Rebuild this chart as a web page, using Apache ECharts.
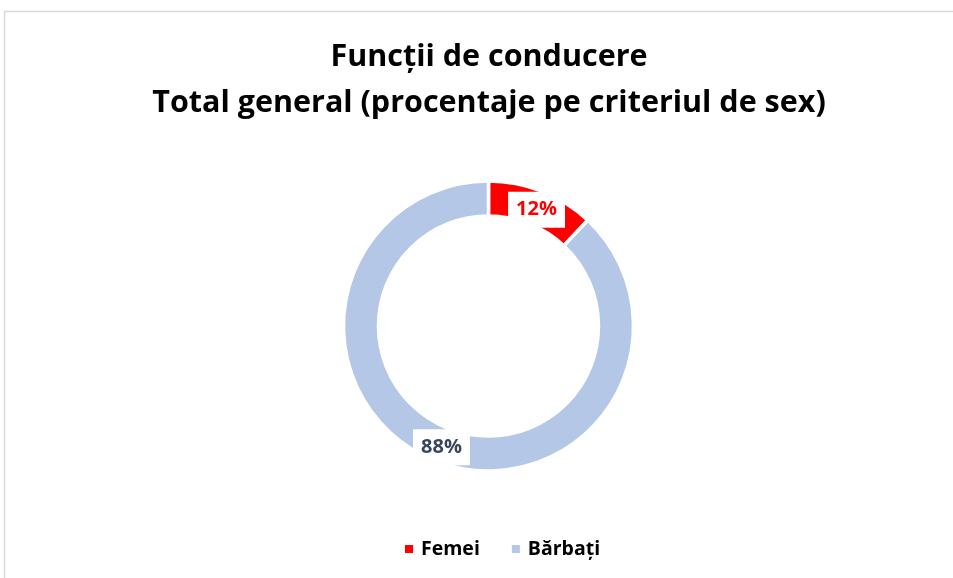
<!DOCTYPE html>
<html><head><meta charset="utf-8">
<script src="https://cdn.jsdelivr.net/npm/echarts@6/dist/echarts.min.js"></script>
<style>html,body{margin:0;padding:0;background:#fff}#c{width:953px;height:578px}</style>
</head><body><div id="c"></div>
<script>
const titleLines = ['Funcții de conducere', 'Total general (procentaje pe criteriul de sex)'];
const categories = ['Femei', 'Bărbați'];
const values = [12, 88];
const colors = ['#FF0000', '#B4C7E7'];
const labelColors = ['#FF0000', '#3B4559'];
const labelOffsets = [[0, 5], [1, 0]];

const chart = echarts.init(document.getElementById('c'));
chart.setOption({
  animation: false,
  backgroundColor: '#fff',
  title: {
    text: titleLines.join('\n'),
    left: 484, top: 29, textAlign: 'center',
    textStyle: { fontFamily: 'Open Sans', fontWeight: 'bold', fontSize: 30.5, color: '#000', lineHeight: 46 }
  },
  graphic: [{
    type: 'rect', shape: { x: 4.5, y: 11.5, width: 1000, height: 700 },
    style: { fill: 'none', stroke: '#D9D9D9', lineWidth: 1.5 }, silent: true
  }],
  legend: {
    bottom: 14, left: 398, itemWidth: 10, itemHeight: 10, itemGap: 30,
    icon: 'rect',
    textStyle: { fontFamily: 'Open Sans', fontWeight: 'bold', fontSize: 19.5, color: '#000', padding: [0, 0, 0, 2] },
    data: categories
  },
  series: [{
    type: 'pie',
    center: [488.5, 326],
    radius: [110, 145],
    startAngle: 90,
    clockwise: true,
    itemStyle: { borderColor: '#fff', borderWidth: 3.5 },
    label: {
      position: 'inside',
      formatter: '{c}%',
      fontFamily: 'Open Sans', fontWeight: 'bold', fontSize: 20, lineHeight: 20,
      backgroundColor: '#fff', padding: [8, 8, 8, 8]
    },
    labelLine: { show: false },
    data: categories.map((n, i) => ({
      name: n, value: values[i],
      itemStyle: { color: colors[i] },
      label: { color: labelColors[i], offset: labelOffsets[i] }
    }))
  }]
});
</script></body></html>
